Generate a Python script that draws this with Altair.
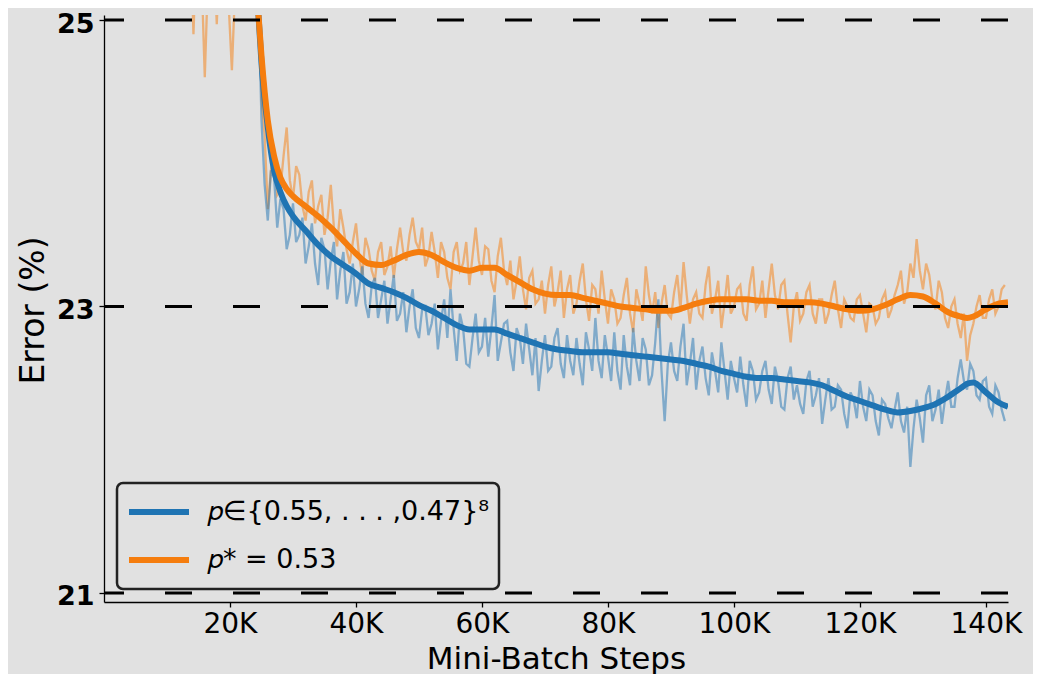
import altair as alt
import pandas as pd

BG = "#e1e1e1"
BLUE = "#1f74b3"
ORANGE = "#f57d0e"
L_BLUE = "𝑝∈{0.55, . . . ,0.47}⁸"
L_ORANGE = "𝑝* = 0.53"

# smoothed curves
smooth_steps = [24500, 25000, 26000, 27000, 28000, 29000, 30000,
                32000, 34000, 36000, 38000, 40000, 42000, 44000, 46000, 48000, 50000,
                52000, 54000, 56000, 58000, 60000, 62000, 64000, 66000, 68000, 70000,
                72000, 74000, 76000, 78000, 80000, 82000, 84000, 86000, 88000, 90000,
                92000, 94000, 96000, 98000, 100000, 102000, 104000, 106000, 108000, 110000,
                112000, 114000, 116000, 118000, 120000, 122000, 124000, 126000, 128000, 130000,
                132000, 134000, 136000, 137000, 138000, 140000, 142000, 143500]
orange_smooth = [25.05, 24.75, 24.30, 24.05, 23.90, 23.82, 23.77,
                 23.70, 23.63, 23.55, 23.46, 23.37, 23.30, 23.29, 23.32, 23.36, 23.38,
                 23.36, 23.31, 23.27, 23.25, 23.27, 23.27, 23.22, 23.17, 23.12, 23.09,
                 23.08, 23.08, 23.06, 23.04, 23.02, 23.00, 22.99, 22.98, 22.97, 22.97,
                 22.99, 23.02, 23.04, 23.05, 23.05, 23.05, 23.04, 23.04, 23.03, 23.03,
                 23.03, 23.02, 23.00, 22.98, 22.97, 22.98, 23.01, 23.05, 23.08, 23.07,
                 23.02, 22.96, 22.93, 22.92, 22.93, 22.98, 23.02, 23.03]
blue_smooth = [25.05, 24.70, 24.25, 23.95, 23.80, 23.70, 23.63,
               23.53, 23.43, 23.35, 23.29, 23.23, 23.16, 23.13, 23.10, 23.06, 23.01,
               22.97, 22.92, 22.87, 22.84, 22.84, 22.84, 22.81, 22.78, 22.75, 22.72,
               22.70, 22.69, 22.68, 22.68, 22.68, 22.67, 22.66, 22.65, 22.64, 22.63,
               22.62, 22.60, 22.58, 22.55, 22.53, 22.51, 22.50, 22.50, 22.49, 22.48,
               22.47, 22.45, 22.41, 22.37, 22.34, 22.31, 22.28, 22.26, 22.27, 22.29,
               22.32, 22.37, 22.43, 22.46, 22.47, 22.40, 22.33, 22.30]

# raw (noisy) curves: readings at whole K steps (24K..143K) ...
raw_steps = list(range(24000, 144000, 1000))
blue_raw = [25.60, 24.30, 23.60, 23.90, 23.75, 23.40, 23.72, 23.50, 23.30, 23.58,
            23.15, 23.40, 23.32, 23.05, 23.38, 23.10, 23.00, 23.28, 22.92, 23.20,
            23.05, 22.88, 23.22, 22.95, 22.82, 23.12, 22.78, 23.00, 22.88, 22.70,
            23.05, 23.12, 22.62, 22.85, 22.58, 22.95, 22.72, 22.65, 23.08, 22.75,
            22.90, 22.55, 22.78, 22.88, 22.52, 22.41, 22.80, 22.58, 22.85, 22.50,
            22.62, 22.78, 22.45, 22.70, 22.92, 22.50, 22.65, 22.82, 22.42, 22.58,
            22.85, 22.48, 22.70, 22.52, 23.05, 22.20, 22.75, 22.48, 22.88, 22.60,
            22.42, 22.72, 22.38, 22.55, 22.75, 22.35, 22.50, 22.65, 22.30, 22.55,
            22.40, 22.62, 22.32, 22.48, 22.28, 22.58, 22.45, 22.25, 22.55, 22.38,
            22.18, 22.50, 22.30, 22.42, 22.15, 22.35, 22.48, 22.20, 22.38, 22.10,
            22.32, 22.15, 22.40, 22.12, 21.88, 22.35, 22.05, 22.45, 22.28, 22.18,
            22.48, 22.30, 22.63, 22.42, 22.55, 22.35, 22.50, 22.25, 22.40, 22.20]
orange_raw = [25.70, 24.45, 23.68, 24.10, 23.82, 24.25, 23.75, 23.92, 23.60, 23.88,
              23.70, 23.50, 23.85, 23.42, 23.55, 23.30, 23.58, 23.22, 23.40, 23.18,
              23.45, 23.28, 23.20, 23.55, 23.32, 23.62, 23.40, 23.28, 23.52, 23.20,
              23.38, 23.12, 23.45, 23.30, 23.15, 23.55, 23.22, 23.40, 23.10, 23.48,
              23.15, 23.05, 23.35, 22.98, 23.25, 23.05, 22.95, 23.28, 23.10, 22.92,
              23.22, 23.02, 23.30, 22.90, 23.12, 23.25, 22.88, 23.05, 22.92, 23.20,
              22.82, 23.02, 23.28, 22.95, 22.85, 23.15, 22.92, 23.22, 23.31, 22.88,
              23.10, 22.92, 23.28, 23.05, 22.85, 23.22, 23.00, 23.15, 22.90, 23.28,
              23.02, 22.92, 23.30, 22.98, 23.18, 22.75, 23.10, 22.95, 23.15, 22.88,
              23.05, 22.95, 23.18, 22.85, 23.00, 22.90, 23.08, 22.82, 23.00, 22.92,
              23.10, 22.98, 23.15, 23.02, 23.30, 23.47, 23.12, 23.22, 22.98, 23.10,
              22.85, 23.05, 22.78, 22.62, 22.88, 23.08, 22.92, 23.12, 23.00, 23.15]
# ... and at the half steps in between (24.5K..142.5K)
mid_steps = list(range(24500, 143000, 1000))
blue_mid = [25.20, 23.85, 23.95, 23.55, 23.68, 23.50, 23.45, 23.62, 23.42, 23.30,
            23.48, 23.12, 23.45, 23.25, 23.02, 23.30, 23.12, 23.02, 23.15, 22.92,
            23.18, 23.05, 22.90, 23.10, 23.00, 22.85, 22.98, 22.80, 23.02, 22.90,
            22.78, 22.85, 22.95, 22.60, 22.78, 22.68, 22.92, 22.85, 22.62, 22.88,
            22.68, 22.85, 22.60, 22.70, 22.78, 22.62, 22.55, 22.78, 22.60, 22.80,
            22.52, 22.60, 22.82, 22.55, 22.62, 22.80, 22.48, 22.55, 22.80, 22.45,
            22.62, 22.78, 22.45, 22.75, 22.55, 22.60, 22.55, 22.72, 22.45, 22.78,
            22.62, 22.50, 22.68, 22.40, 22.55, 22.62, 22.40, 22.45, 22.62, 22.35,
            22.55, 22.42, 22.58, 22.30, 22.50, 22.35, 22.32, 22.48, 22.30, 22.50,
            22.35, 22.28, 22.45, 22.25, 22.40, 22.22, 22.30, 22.42, 22.20, 22.35,
            22.22, 22.28, 22.20, 22.30, 22.15, 22.22, 22.38, 22.20, 22.42, 22.35,
            22.30, 22.50, 22.48, 22.60, 22.38, 22.48, 22.30, 22.45, 22.28]
orange_mid = [25.40, 24.20, 23.95, 23.78, 24.05, 23.88, 23.98, 23.70, 23.80, 23.58,
              23.78, 23.62, 23.55, 23.68, 23.40, 23.45, 23.35, 23.48, 23.25, 23.38,
              23.22, 23.42, 23.40, 23.38, 23.50, 23.45, 23.55, 23.35, 23.38, 23.45,
              23.20, 23.38, 23.25, 23.45, 23.35, 23.32, 23.42, 23.18, 23.35, 23.25,
              23.32, 23.18, 23.12, 23.20, 23.02, 23.18, 23.15, 23.00, 23.25, 23.12,
              22.95, 23.18, 23.05, 23.15, 22.95, 23.05, 23.12, 22.88, 23.08, 22.95,
              23.12, 22.90, 23.08, 23.10, 23.02, 22.95, 23.10, 22.98, 23.08, 23.05,
              22.95, 23.15, 22.95, 23.18, 23.02, 22.95, 23.12, 22.95, 23.15, 22.98,
              23.18, 23.12, 23.08, 23.15, 22.95, 23.00, 22.90, 23.10, 22.95, 23.05,
              22.88, 23.08, 22.98, 23.05, 22.92, 23.05, 22.95, 23.02, 22.88, 23.05,
              22.92, 23.08, 23.25, 23.10, 23.20, 23.25, 23.30, 23.05, 23.18, 22.92,
              23.00, 22.88, 22.95, 22.80, 23.00, 22.92, 23.05, 22.95, 23.12]
# early orange spikes (mostly above the visible range)
orange_pre_steps = [13500, 14200, 15000, 16000, 17000, 17900, 18800, 20300, 21500, 23000]
orange_pre = [26.0, 24.9, 26.0, 24.6, 26.0, 24.97, 26.0, 24.65, 26.0, 26.0]

ref_levels = [21, 23, 25]
x_ticks = [20000, 40000, 60000, 80000, 100000, 120000, 140000]

smooth_df = pd.concat([
    pd.DataFrame({"step": smooth_steps, "error": blue_smooth, "series": L_BLUE}),
    pd.DataFrame({"step": smooth_steps, "error": orange_smooth, "series": L_ORANGE}),
])
raw_df = pd.concat([
    pd.DataFrame({"step": raw_steps + mid_steps, "error": blue_raw + blue_mid,
                  "series": L_BLUE}),
    pd.DataFrame({"step": orange_pre_steps + raw_steps + mid_steps,
                  "error": orange_pre + orange_raw + orange_mid, "series": L_ORANGE}),
]).sort_values(["series", "step"])
ref_df = pd.DataFrame({"error": ref_levels})

FONT = "DejaVu Sans"

x_enc = alt.X("step:Q",
              scale=alt.Scale(domain=[0, 143500], nice=False, zero=False),
              axis=alt.Axis(values=x_ticks, labelExpr="datum.value / 1000 + 'K'",
                            title="Mini-Batch Steps", grid=False,
                            labelFontSize=28, labelFont=FONT, labelBaseline="alphabetic",
                            labelPadding=25, tickSize=5,
                            titleFontSize=31, titleFont=FONT, titleFontWeight="normal",
                            titleBaseline="alphabetic", titleX=452, titleY=66,
                            titleAnchor="middle"))
y_enc = alt.Y("error:Q",
              scale=alt.Scale(domain=[20.937, 25.035], nice=False, zero=False),
              axis=alt.Axis(values=ref_levels, title="Error (%)", grid=False,
                            labelFontSize=27, labelFont=FONT, labelFontWeight="bold",
                            labelBaseline="alphabetic", labelOffset=12,
                            labelPadding=5, tickSize=5,
                            titleFontSize=33, titleFont=FONT, titleFontWeight="normal",
                            titleBaseline="alphabetic", titleX=-61, titleY=295,
                            titleAngle=270, titleAlign="center"))

color_scale = alt.Scale(domain=[L_BLUE, L_ORANGE], range=[BLUE, ORANGE])
legend = alt.Legend(title=None, orient="none", legendX=13, legendY=468,
                    symbolType="stroke", symbolSize=3600,
                    symbolStrokeWidth=6, symbolOpacity=1,
                    labelFontSize=27, labelFont=FONT, labelOffset=16, labelLimit=500,
                    padding=9, clipHeight=40, rowPadding=8,
                    fillColor=BG, strokeColor="#222222", cornerRadius=6)

raw = alt.Chart(raw_df).mark_line(strokeWidth=2.3, opacity=0.5, clip=True).encode(
    x=x_enc, y=y_enc,
    color=alt.Color("series:N", scale=color_scale, legend=legend),
    order=alt.Order("step:Q"),
)

smooth = alt.Chart(smooth_df).mark_line(strokeWidth=6, interpolate="monotone", clip=True).encode(
    x=x_enc, y=y_enc,
    color=alt.Color("series:N", scale=color_scale, legend=legend),
    order=alt.Order("step:Q"),
)

rules = alt.Chart(ref_df).mark_rule(color="black", strokeWidth=3, strokeDash=[27, 41]).encode(
    y=y_enc,
)

chart = alt.layer(raw, smooth, rules).properties(
    width=904, height=587,
    autosize=alt.AutoSizeParams(type="none"),
    padding={"left": 96, "top": 7, "right": 25, "bottom": 72},
    background=BG,
).configure_view(stroke=None).configure_axis(
    domainColor="black", domainWidth=1.3, tickColor="black", tickWidth=1.3,
    labelColor="black", titleColor="black",
).configure_legend(strokeWidth=2.5)

chart.save("out.html", embed_options={"renderer": "svg", "actions": False})
